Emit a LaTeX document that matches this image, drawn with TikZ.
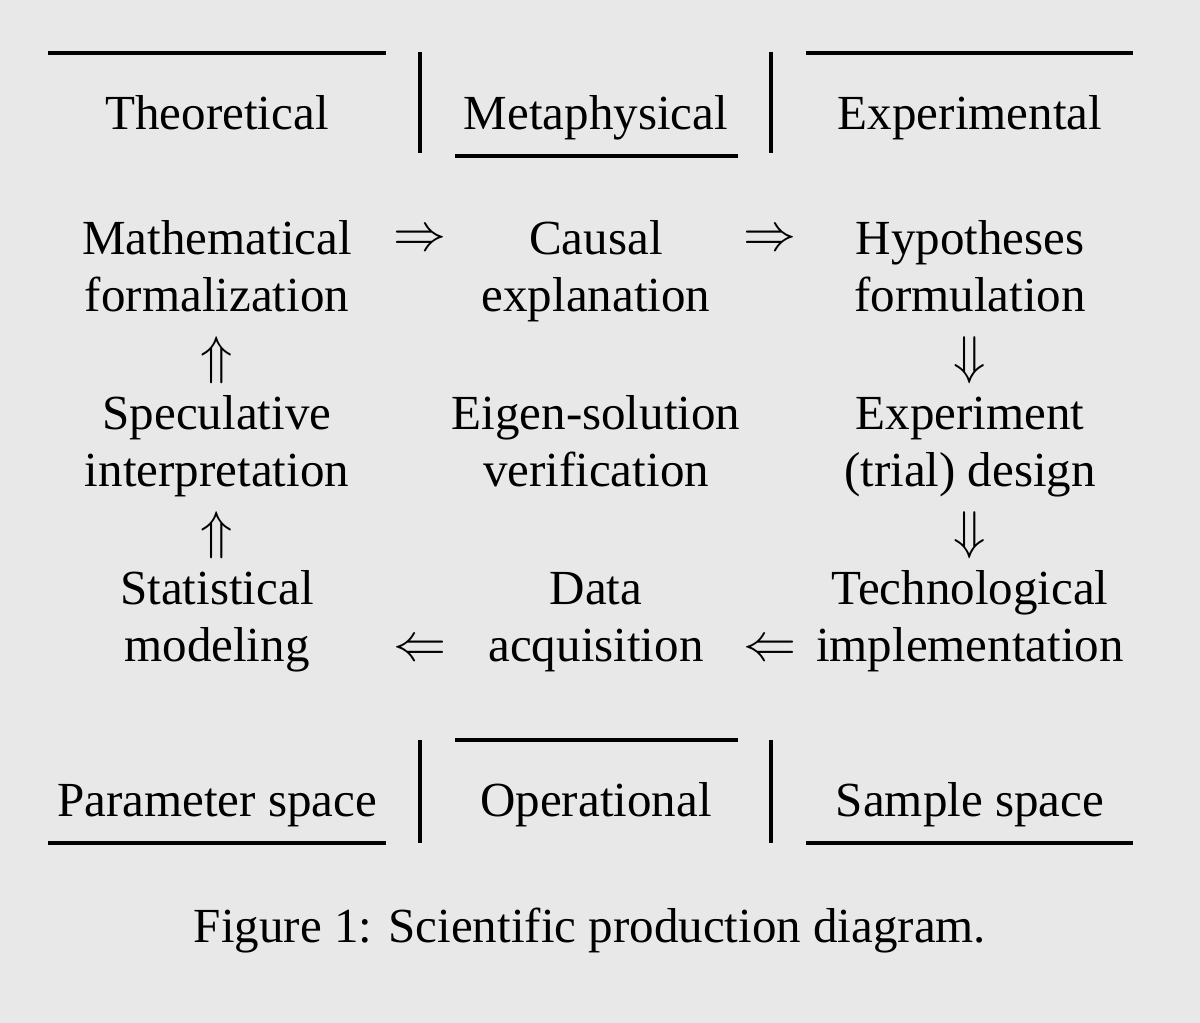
\documentclass[tikz,border=0pt]{standalone}
\usepackage{fontspec}
\setmainfont{Liberation Serif}
\usepackage{amsmath}
\usetikzlibrary{positioning}
\definecolor{pageBg}{HTML}{E8E8E8}
\tikzset{
    % text cells
    cellText/.style={
        align=center,
        inner sep=0pt,
        anchor=base,
        font=\fontsize{9.25}{10.76}\selectfont
    },
    headText/.style={cellText},
    % arrow glyphs
    symText/.style={inner sep=0pt, font=\fontsize{9.6}{10.76}\selectfont},
    % table rules
    hRule/.style={line width=0.6pt},
    vRule/.style={line width=0.75pt}
}

\begin{document}
\begin{tikzpicture}[x=0.1887pt, y=-0.1887pt]
\path[fill=pageBg, use as bounding box] (0,0) rectangle (1200,1023);

% headers
\node[headText] (theo) at (217,130) {Theoretical};
\node[headText] (meta) at (596,130) {Metaphysical};
\node[headText] (expe) at (970,130) {Experimental};

\draw[hRule] (48,53) -- (386,53);
\draw[hRule] (806,53) -- (1133,53);
\draw[hRule] (455,156) -- (738,156);
\draw[vRule] (420,52) -- (420,153);
\draw[vRule] (771,52) -- (771,153);

% cycle (base = last line)
\node[cellText] (mathForm) at (217,312) {Mathematical\\formalization};
\node[cellText] (causal) at (596,312) {Causal\\explanation};
\node[cellText] (hypo) at (970,312) {Hypotheses\\formulation};
\node[cellText] (specInt) at (217,487) {Speculative\\interpretation};
\node[cellText] (eigen) at (596,487) {Eigen-solution\\verification};
\node[cellText] (expDesign) at (970,487) {Experiment\\(trial) design};
\node[cellText] (statMod) at (217,662) {Statistical\\modeling};
\node[cellText] (dataAcq) at (596,662) {Data\\acquisition};
\node[cellText] (techImpl) at (970,662) {Technological\\implementation};

\node[symText] (arrA) at (420,241) {$\Rightarrow$};
\node[symText] (arrB) at (770,241) {$\Rightarrow$};
\node[symText] (arrC) at (970,360) {$\Downarrow$};
\node[symText] (arrD) at (970,535) {$\Downarrow$};
\node[symText] (arrE) at (770,651) {$\Leftarrow$};
\node[symText] (arrF) at (420,651) {$\Leftarrow$};
\node[symText] (arrG) at (217,535) {$\Uparrow$};
\node[symText] (arrH) at (217,360) {$\Uparrow$};

% footers
\node[headText] (paramSp) at (217,817) {Parameter space};
\node[headText] (operat) at (596,817) {Operational};
\node[headText] (sampleSp) at (970,817) {Sample space};

\draw[hRule] (455,740) -- (738,740);
\draw[hRule] (48,843) -- (386,843);
\draw[hRule] (806,843) -- (1133,843);
\draw[vRule] (420,740) -- (420,843);
\draw[vRule] (771,740) -- (771,843);

\node[headText] (caption) at (590,943) {Figure 1: Scientific production diagram.};
\end{tikzpicture}
\end{document}
